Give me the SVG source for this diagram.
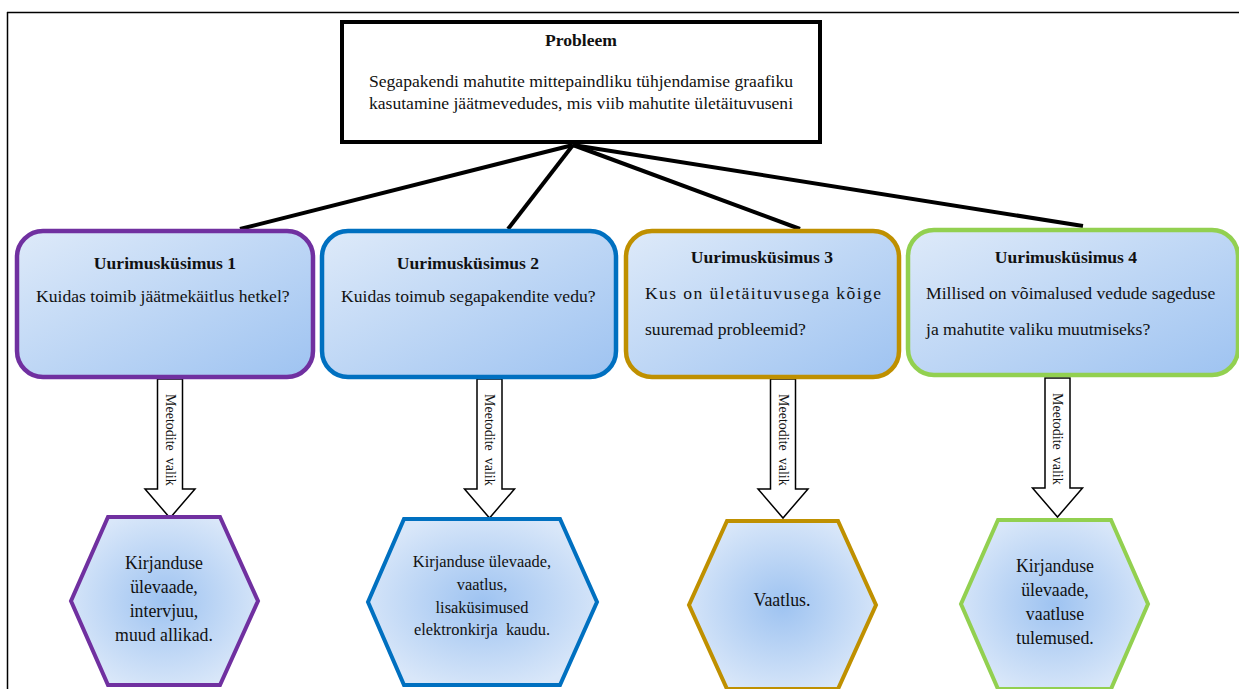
<svg xmlns="http://www.w3.org/2000/svg" width="1239" height="689" viewBox="0 0 1239 689">
<defs>
<linearGradient id="boxfill" x1="0" y1="0" x2="1" y2="1">
<stop offset="0" stop-color="#DEEAF9"/>
<stop offset="1" stop-color="#9EC3F1"/>
</linearGradient>
<radialGradient id="hexfill" cx="0.5" cy="0.5" r="0.55">
<stop offset="0" stop-color="#9EC3F1"/>
<stop offset="1" stop-color="#D9E7F9"/>
</radialGradient>
<g id="arrow">
<path d="M-12.5,0 L12.5,0 L12.5,110 L25,110 L0,139 L-25,110 L-12.5,110 Z" fill="#fff" stroke="#000" stroke-width="1.5"/>
<text transform="translate(0,15) rotate(90)" class="arr" xml:space="preserve">Meetodite  valik</text>
</g>
</defs>
<style>
text{font-family:"Liberation Serif","Times New Roman",serif;fill:#111;}
.t{font-size:17.6px;}
.b{font-size:17.6px;font-weight:bold;text-anchor:middle;}
.c{text-anchor:middle;}
.h{font-size:17.8px;}
.arr{font-size:14px;dominant-baseline:central;}
.box{fill:url(#boxfill);stroke-width:4.5;}
.hex{fill:url(#hexfill);stroke-width:4;}
.conn{stroke:#000;stroke-width:4;fill:none;}
</style>
<rect width="1239" height="689" fill="#fff"/>
<g id="frame" stroke="#000" stroke-width="1.5">
<line x1="7" y1="12.5" x2="1239" y2="12.5"/>
<line x1="7.5" y1="12" x2="7.5" y2="689"/>
</g>
<g id="connectors">
<line class="conn" x1="573" y1="145" x2="240" y2="229"/>
<line class="conn" x1="573" y1="145" x2="508" y2="229"/>
<line class="conn" x1="573" y1="145" x2="800" y2="229"/>
<line class="conn" x1="573" y1="145" x2="1083" y2="226"/>
<use href="#arrow" x="170" y="379"/>
<use href="#arrow" x="489.5" y="379"/>
<use href="#arrow" x="783" y="379"/>
<use href="#arrow" x="1057.5" y="378"/>
</g>
<g id="problem">
<rect x="342" y="22" width="478" height="120" fill="#fff" stroke="#000" stroke-width="4"/>
<text class="b" x="581" y="46">Probleem</text>
<text class="t c" x="581" y="87">Segapakendi mahutite mittepaindliku tühjendamise graafiku</text>
<text class="t c" x="581" y="109">kasutamine jäätmevedudes, mis viib mahutite ületäituvuseni</text>
</g>
<g id="q1">
<rect class="box" x="17" y="231" width="296" height="146" rx="26" stroke="#7030A0"/>
<text class="b" x="165" y="269">Uurimusküsimus 1</text>
<text class="t" x="36" y="302">Kuidas toimib jäätmekäitlus hetkel?</text>
</g>
<g id="q2">
<rect class="box" x="322" y="231" width="294" height="146" rx="26" stroke="#0070C0"/>
<text class="b" x="468" y="269">Uurimusküsimus 2</text>
<text class="t" x="341" y="302">Kuidas toimub segapakendite vedu?</text>
</g>
<g id="q3">
<rect class="box" x="626" y="231" width="273" height="146" rx="26" stroke="#BF9000"/>
<text class="b" x="762" y="263">Uurimusküsimus 3</text>
<text class="t" x="645" y="299" textLength="236" lengthAdjust="spacing">Kus on ületäituvusega kõige</text>
<text class="t" x="645" y="335">suuremad probleemid?</text>
</g>
<g id="q4">
<rect class="box" x="908" y="230" width="330" height="145" rx="26" stroke="#92D050"/>
<text class="b" x="1066" y="263">Uurimusküsimus 4</text>
<text class="t" x="926" y="299">Millised on võimalused vedude sageduse</text>
<text class="t" x="926" y="335">ja mahutite valiku muutmiseks?</text>
</g>
<g id="m1">
<polygon class="hex" points="108,517 220,517 258,601 220,685 108,685 71,601" stroke="#7030A0"/>
<text class="h c" x="164" y="569">Kirjanduse</text>
<text class="h c" x="164" y="593">ülevaade,</text>
<text class="h c" x="164" y="617">intervjuu,</text>
<text class="h c" x="164" y="641">muud allikad.</text>
</g>
<g id="m2">
<polygon class="hex" points="404,519 560,519 597,602 560,685 404,685 368,602" stroke="#0070C0"/>
<text class="c" x="482" y="567" style="font-size:16.4px">Kirjanduse ülevaade,</text>
<text class="c" x="482" y="590" style="font-size:16.4px">vaatlus,</text>
<text class="c" x="482" y="613" style="font-size:16.4px">lisaküsimused</text>
<text class="c" x="482" y="635" style="font-size:16.4px" xml:space="preserve">elektronkirja  kaudu.</text>
</g>
<g id="m3">
<polygon class="hex" points="727,521 838,521 876,605 838,689 727,689 689,605" stroke="#BF9000"/>
<text class="h c" x="782" y="606">Vaatlus.</text>
</g>
<g id="m4">
<polygon class="hex" points="998,520 1111,520 1148,604 1111,689 998,689 961,604" stroke="#92D050"/>
<text class="h c" x="1055" y="572">Kirjanduse</text>
<text class="h c" x="1055" y="596">ülevaade,</text>
<text class="h c" x="1055" y="620">vaatluse</text>
<text class="h c" x="1055" y="644">tulemused.</text>
</g>
</svg>
